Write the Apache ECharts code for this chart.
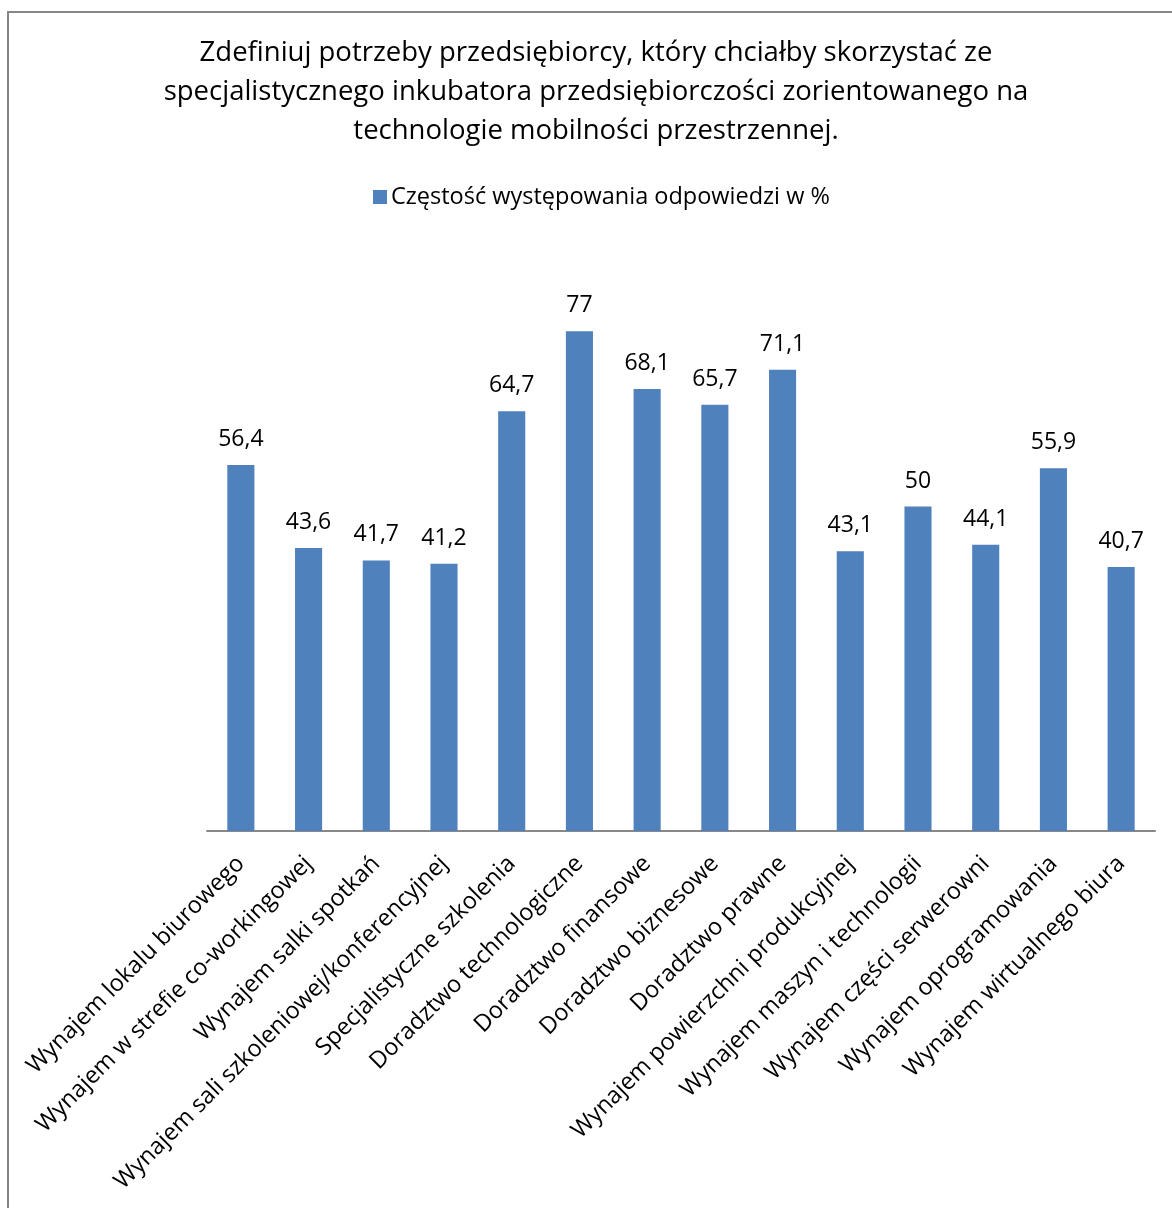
<!DOCTYPE html>
<html>
<head>
<meta charset="utf-8">
<script src="https://cdn.jsdelivr.net/npm/echarts@6/dist/echarts.min.js"></script>
<style>
html, body { margin: 0; padding: 0; background: #fff; }
#chart { width: 1172px; height: 1208px; }
</style>
</head>
<body>
<div id="chart"></div>
<script>
var titleLines = [
  'Zdefiniuj potrzeby przedsiębiorcy, który chciałby skorzystać ze',
  'specjalistycznego inkubatora przedsiębiorczości zorientowanego na',
  'technologie mobilności przestrzennej.'
];
var seriesName = 'Częstość występowania odpowiedzi w %';
var categories = [
  'Wynajem lokalu biurowego',
  'Wynajem w strefie co-workingowej',
  'Wynajem salki spotkań',
  'Wynajem sali szkoleniowej/konferencyjnej',
  'Specjalistyczne szkolenia',
  'Doradztwo technologiczne',
  'Doradztwo finansowe',
  'Doradztwo biznesowe',
  'Doradztwo prawne',
  'Wynajem powierzchni produkcyjnej',
  'Wynajem maszyn i technologii',
  'Wynajem części serwerowni',
  'Wynajem oprogramowania',
  'Wynajem wirtualnego biura'
];
var values = [56.4, 43.6, 41.7, 41.2, 64.7, 77, 68.1, 65.7, 71.1, 43.1, 50, 44.1, 55.9, 40.7];

var font = '"Open Sans", Lato, sans-serif';
var chart = echarts.init(document.getElementById('chart'), null, {renderer: 'canvas'});
var option = {
  animation: false,
  backgroundColor: '#ffffff',
  textStyle: {fontFamily: font},
  title: {
    text: titleLines.join('\n'),
    left: 596,
    top: 34,
    padding: 0,
    textAlign: 'center',
    textStyle: {fontFamily: font, fontSize: 27.5, fontWeight: 'normal', color: '#000', lineHeight: 39}
  },
  legend: {
    data: [seriesName],
    top: 180,
    left: 368,
    itemWidth: 14,
    itemHeight: 14,
    itemGap: 6,
    icon: 'rect',
    textStyle: {fontFamily: font, fontSize: 23.5, color: '#000', padding: [0, 0, 0, -1]}
  },
  graphic: [{
    type: 'rect',
    shape: {x: 8, y: 12, width: 1400, height: 1400},
    style: {fill: 'none', stroke: '#868686', lineWidth: 2},
    silent: true
  }],
  grid: {left: 207, right: 17, top: 247, bottom: 377},
  xAxis: {
    type: 'category',
    data: categories,
    axisLine: {show: true, lineStyle: {color: '#888888', width: 2}},
    axisTick: {show: false},
    axisLabel: {
      interval: 0,
      rotate: 45,
      margin: 29,
      fontFamily: font,
      fontSize: 23.5,
      color: '#000'
    }
  },
  yAxis: {
    type: 'value',
    min: 0,
    max: 90,
    interval: 10,
    show: false,
    splitLine: {show: false}
  },
  series: [{
    name: seriesName,
    type: 'bar',
    data: values,
    barCategoryGap: '60%',
    itemStyle: {color: '#4F81BD'},
    label: {
      show: true,
      position: 'top',
      distance: 14,
      fontFamily: font,
      fontSize: 23,
      color: '#000',
      formatter: function (p) { return String(p.value).replace('.', ','); }
    }
  }]
};
chart.setOption(option);
</script>
</body>
</html>
